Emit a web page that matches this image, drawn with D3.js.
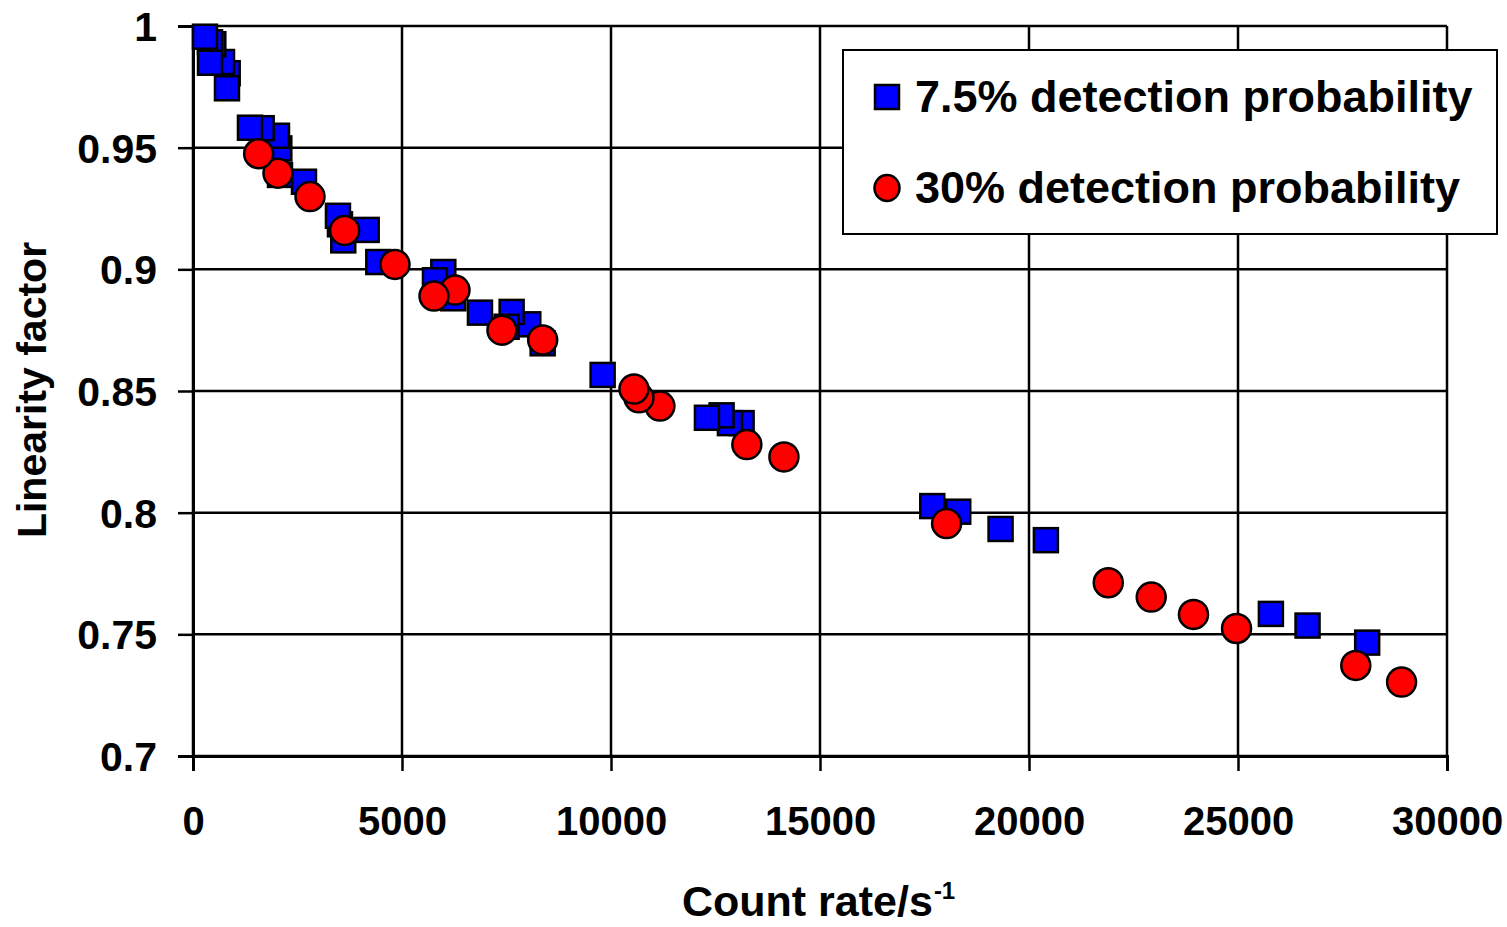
<!DOCTYPE html>
<html>
<head>
<meta charset="utf-8">
<script src="https://cdn.jsdelivr.net/npm/d3@7"></script>
<style>
  html, body { margin: 0; padding: 0; background: #fff; }
  svg { display: block; }
  text { font-family: "Liberation Sans", Arial, Helvetica, sans-serif; font-weight: bold; fill: #000; }
</style>
</head>
<body>
<svg id="chart" width="1507" height="927"></svg>
<script>
// Count rate (s^-1) and linearity factor for the 7.5% detection probability runs
const rate75 = [287, 407, 486, 407, 694, 830, 813, 1363, 1643, 2009, 2065, 2081, 2655, 3468, 3516, 4155, 3595, 4433,
  5988, 5789, 6227, 6865, 7623, 7503, 8021, 8365, 9800, 12295, 12646, 12845, 13125, 17686, 18307, 19320, 20404,
  25787, 26664, 28090];
const lin75 = [0.9956, 0.9933, 0.9925, 0.9849, 0.9852, 0.9806, 0.9744, 0.9582, 0.9580, 0.9549, 0.9497, 0.9388, 0.9360,
  0.9220, 0.9185, 0.9162, 0.9119, 0.9030, 0.8989, 0.8955, 0.8881, 0.8822, 0.8825, 0.8764, 0.8774, 0.8696, 0.8566,
  0.8390, 0.8400, 0.8368, 0.8368, 0.8027, 0.8004, 0.7933, 0.7887, 0.7584, 0.7536, 0.7466];

// Count rate (s^-1) and linearity factor for the 30% detection probability runs
const rate30 = [1571, 2033, 2799, 3628, 4832, 5765, 6268, 7391, 8365, 10549, 10668, 11170, 13250, 14137, 18028,
  21896, 22924, 23935, 24965, 27818, 28913];
const lin30 = [0.9475, 0.9395, 0.9299, 0.9160, 0.9020, 0.8890, 0.8915, 0.8750, 0.8710, 0.8508, 0.8472, 0.8438,
  0.8280, 0.8229, 0.7955, 0.7712, 0.7653, 0.7582, 0.7524, 0.7372, 0.7304];

const xTicks = [0, 5000, 10000, 15000, 20000, 25000, 30000];
const yTicks = [0.7, 0.75, 0.8, 0.85, 0.9, 0.95, 1];
const seriesNames = ["7.5% detection probability", "30% detection probability"];

const svg = d3.select("#chart");
svg.append("rect").attr("width", 1507).attr("height", 927).attr("fill", "#fff");

const x = d3.scaleLinear().domain([0, 30000]).range([193, 1447]);
const y = d3.scaleLinear().domain([0.7, 1]).range([756, 26]);

// grid
const grid = svg.append("g");
grid.selectAll("line.h").data(yTicks).join("line")
  .attr("x1", x(0)).attr("x2", x(30000))
  .attr("y1", d => y(d)).attr("y2", d => y(d))
  .attr("stroke", "#000").attr("stroke-width", 2.5);
grid.selectAll("line.v").data(xTicks).join("line")
  .attr("y1", y(0.7)).attr("y2", y(1))
  .attr("x1", d => x(d)).attr("x2", d => x(d))
  .attr("stroke", "#000").attr("stroke-width", 2.5);

// axes
const xAxis = d3.axisBottom(x).tickValues(xTicks).tickSize(15).tickPadding(36).tickFormat(d3.format("d"));
const yAxis = d3.axisLeft(y).tickValues(yTicks).tickSize(15).tickPadding(21).tickFormat(d => String(d));

const gx = svg.append("g").attr("transform", `translate(0,${y(0.7)})`).call(xAxis);
const gy = svg.append("g").attr("transform", `translate(${x(0)},0)`).call(yAxis);
[gx, gy].forEach(g => {
  g.select(".domain").attr("stroke", "#000").attr("stroke-width", 3);
  g.selectAll(".tick line").attr("stroke", "#000").attr("stroke-width", 2.5);
  g.selectAll(".tick text").attr("fill", "#000")
    .style("font-family", '"Liberation Sans", Arial, sans-serif').style("font-weight", "bold");
});
gx.selectAll(".tick text").style("font-size", "40px").attr("dy", "0.71em");
gy.selectAll(".tick text").style("font-size", "41px").attr("dy", "0.35em");

// axis titles
const xt = svg.append("text").attr("x", 682).attr("y", 916).style("font-size", "43px");
xt.append("tspan").text("Count rate/s");
xt.append("tspan").attr("dy", -17).attr("dx", 1).style("font-size", "24px").text("-1");

svg.append("text")
  .attr("transform", "translate(46,390) rotate(-90)")
  .attr("text-anchor", "middle")
  .style("font-size", "41px")
  .text("Linearity factor");

// markers: squares first, circles above; higher rates drawn underneath
const sq = 24;
const pts75 = rate75.map((r, i) => ({ r, v: lin75[i] })).sort((a, b) => b.r - a.r);
const pts30 = rate30.map((r, i) => ({ r, v: lin30[i] })).sort((a, b) => b.r - a.r);

svg.append("g").selectAll("rect").data(pts75).join("rect")
  .attr("x", d => x(d.r) - sq / 2).attr("y", d => y(d.v) - sq / 2)
  .attr("width", sq).attr("height", sq)
  .attr("fill", "#0000ff").attr("stroke", "#000").attr("stroke-width", 2.5);

svg.append("g").selectAll("circle").data(pts30).join("circle")
  .attr("cx", d => x(d.r)).attr("cy", d => y(d.v)).attr("r", 14.5)
  .attr("fill", "#ff0000").attr("stroke", "#000").attr("stroke-width", 2.5);

// legend
const lg = svg.append("g");
lg.append("rect").attr("x", 843).attr("y", 50).attr("width", 654).attr("height", 184)
  .attr("fill", "#fff").attr("stroke", "#000").attr("stroke-width", 2);
lg.append("rect").attr("x", 875).attr("y", 85).attr("width", 24).attr("height", 24)
  .attr("fill", "#0000ff").attr("stroke", "#000").attr("stroke-width", 2.5);
lg.append("ellipse").attr("cx", 887).attr("cy", 188).attr("rx", 12.5).attr("ry", 13)
  .attr("fill", "#ff0000").attr("stroke", "#000").attr("stroke-width", 2.5);
lg.append("text").attr("x", 915).attr("y", 112).style("font-size", "45px").text(seriesNames[0]);
lg.append("text").attr("x", 915).attr("y", 203).style("font-size", "45px").text(seriesNames[1]);
</script>
</body>
</html>
